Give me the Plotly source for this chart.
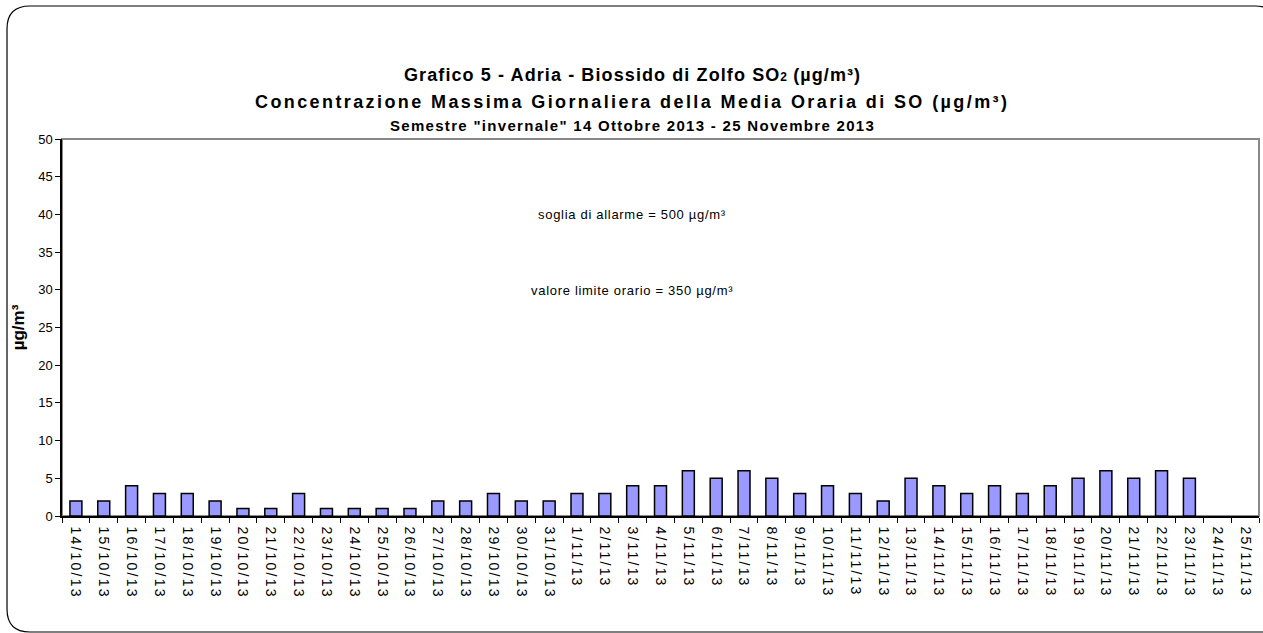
import plotly.graph_objects as go

dates = ["14/10/13", "15/10/13", "16/10/13", "17/10/13", "18/10/13", "19/10/13", "20/10/13",
         "21/10/13", "22/10/13", "23/10/13", "24/10/13", "25/10/13", "26/10/13", "27/10/13",
         "28/10/13", "29/10/13", "30/10/13", "31/10/13", "1/11/13", "2/11/13", "3/11/13",
         "4/11/13", "5/11/13", "6/11/13", "7/11/13", "8/11/13", "9/11/13", "10/11/13",
         "11/11/13", "12/11/13", "13/11/13", "14/11/13", "15/11/13", "16/11/13", "17/11/13",
         "18/11/13", "19/11/13", "20/11/13", "21/11/13", "22/11/13", "23/11/13", "24/11/13",
         "25/11/13"]
so2_max = [2, 2, 4, 3, 3, 2, 1, 1, 3, 1, 1, 1, 1, 2, 2, 3, 2, 2, 3, 3, 4, 4, 6, 5, 6, 5, 3, 4,
           3, 2, 5, 4, 3, 4, 3, 4, 5, 6, 5, 6, 5, None, None]
y_ticks = [0, 5, 10, 15, 20, 25, 30, 35, 40, 45, 50]

W, H = 1263, 633
L, R, T, B = 62, 4, 139, 117
pw, ph = W - L - R, H - T - B


def px(x):
    return (x - L) / pw


def py(y):
    return (H - B - y) / ph


def spaced(text, sp):
    return f"<span style='letter-spacing:{sp}px'>{text}</span>"


fig = go.Figure(go.Bar(
    x=dates, y=so2_max,
    marker=dict(color="#9999FF", line=dict(color="black", width=1.5)),
    width=0.43,
))

# chart frame with rounded corners (right side runs off the image)
x0, x1, y0, y1, r = 7, 1278, 6, 632, 23
path = (f"M {px(x0)},{py(y0 + r)} Q {px(x0)},{py(y0)} {px(x0 + r)},{py(y0)} "
        f"L {px(x1 - r)},{py(y0)} Q {px(x1)},{py(y0)} {px(x1)},{py(y0 + r)} "
        f"L {px(x1)},{py(y1)} L {px(x0 + r)},{py(y1)} "
        f"Q {px(x0)},{py(y1)} {px(x0)},{py(y1 - r)} Z")
fig.add_shape(type="path", path=path, xref="paper", yref="paper",
              line=dict(color="black", width=1.2))
fig.add_shape(type="rect", xref="paper", yref="paper", x0=0, x1=1, y0=0, y1=1,
              line=dict(color="#888888", width=2), layer="below")

titles = [
    ("<b>" + spaced("Grafico 5 - Adria - Biossido di Zolfo SO", 1.1)
     + "<span style='font-size:12px'>2</span>" + spaced(" (µg/m³)", 1.1) + "</b>", 75, 18),
    ("<b>" + spaced("Concentrazione Massima Giornaliera della Media Oraria di SO (µg/m³)", 2.4) + "</b>", 102, 18),
    ("<b>" + spaced("Semestre \"invernale\" 14 Ottobre 2013 - 25 Novembre 2013", 1.3) + "</b>", 125, 15),
]
for text, y, size in titles:
    fig.add_annotation(text=text, xref="paper", yref="paper", x=px(632), y=py(y),
                       yanchor="middle", showarrow=False, font=dict(size=size, color="black"))

for text, y in [("soglia di allarme = 500 µg/m³", 214), ("valore limite orario = 350 µg/m³", 290)]:
    fig.add_annotation(text=spaced(text, 0.7), xref="paper", yref="paper", x=px(632), y=py(y),
                       yanchor="middle", showarrow=False, font=dict(size=13, color="black"))

fig.update_xaxes(
    type="category", tickson="boundaries", ticks="outside", ticklen=5, tickcolor="black",
    tickvals=dates, ticktext=[spaced(d, 2.2) for d in dates], ticklabelstandoff=6,
    showline=True, linecolor="black", linewidth=1.5, tickangle=90,
    tickfont=dict(size=14, color="black"), showgrid=False,
)
fig.update_yaxes(
    range=[0, 50], tickvals=y_ticks, ticks="outside", ticklen=5, tickcolor="black",
    showline=True, linecolor="black", linewidth=1.5, showgrid=False, zeroline=False,
    tickfont=dict(size=13, color="black"),
    title=dict(text="<b>µg/m³</b>", font=dict(size=17, color="black"), standoff=9),
)

fig.update_layout(
    width=W, height=H,
    margin=dict(l=L, r=R, t=T, b=B),
    font=dict(family="Liberation Sans, Arial, sans-serif"),
    paper_bgcolor="white", plot_bgcolor="white",
    showlegend=False,
)

fig.write_html("out.html", config={"displayModeBar": False},
               post_script="document.body.style.margin = '0';")
